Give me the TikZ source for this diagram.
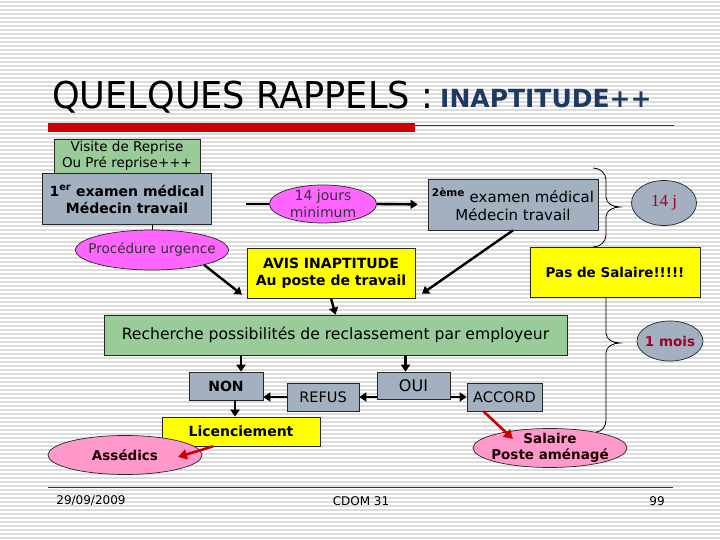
\documentclass[tikz,border=0pt]{standalone}
\usepackage{fontspec}
\setmainfont{DejaVu Sans}
\newfontfamily\titlefont[FakeStretch=0.95]{DejaVu Sans}
\newfontfamily\seriffont{Liberation Serif}
\usetikzlibrary{
    arrows.meta,
    positioning,
    shapes.geometric,
    calc
}
\definecolor{stripe}{RGB}{220,220,220}
\definecolor{titleblue}{RGB}{31,58,96}
\definecolor{barred}{RGB}{204,0,0}
\definecolor{linered}{RGB}{140,20,30}
\definecolor{boxgreen}{RGB}{153,204,153}
\definecolor{boxgrey}{RGB}{163,176,192}
\definecolor{boxyellow}{RGB}{255,255,0}
\definecolor{ovalmagenta}{RGB}{255,102,255}
\definecolor{ovalpink}{RGB}{255,153,204}
\definecolor{textred}{RGB}{160,0,40}
\definecolor{arrowred}{RGB}{204,0,0}
\newcommand{\fsz}[2]{\fontsize{#1}{#2}\selectfont}
\tikzset{
    stepbox/.style={
        rectangle,
        draw=black!85,
        line width=0.7pt,
        inner sep=0pt,
        align=center
    },
    greenbox/.style={stepbox, fill=boxgreen},
    greybox/.style={stepbox, fill=boxgrey},
    yellowbox/.style={stepbox, fill=boxyellow, font=\bfseries\fsz{14}{17}},
    oval/.style={
        ellipse,
        draw=black!85,
        line width=0.7pt,
        inner sep=0pt
    },
    flow/.style={
        -{Triangle[length=7pt,width=9pt]},
        line width=2.4pt,
        draw=black
    },
    redflow/.style={
        -{Triangle[length=9pt,width=10pt]},
        line width=2.6pt,
        draw=arrowred
    },
    bracket/.style={draw=black, line width=0.8pt}
}

\begin{document}
\begin{tikzpicture}[
    x=1pt, y=-1pt,
    ovaltext/.style={align=center, inner sep=0pt},
    footer/.style={inner sep=0pt, font=\fsz{12}{14}}
]
    \useasboundingbox (0,0) rectangle (720,540);
    \fill[white] (0,0) rectangle (720,540);
    \foreach \y in {2,6,...,538}
        \draw[stripe, line width=1.2pt] (0,\y) -- (720,\y);

    % Title
    \node[anchor=base west, inner sep=0pt, font=\titlefont\fsz{37}{40}] (title) at (52,109) {QUELQUES RAPPELS :};
    \node[anchor=base west, inner sep=0pt, font=\bfseries\fsz{25}{28}, text=titleblue] (subject) at (440,108) {INAPTITUDE++};
    \fill[barred] (48,123) rectangle (415,132);
    \draw[linered, line width=1pt] (415,126) -- (674,126);

    % First visits
    \node[greenbox, minimum width=146pt, minimum height=34pt, font=\fsz{13.5}{16}] (visite) at (127,156) {Visite de Reprise\\Ou Pré reprise+++};
    \node[greybox, below=0pt of visite, minimum width=169pt, minimum height=51pt, font=\bfseries\fsz{14}{17}] (exam1) {1\textsuperscript{er} examen médical\\Médecin travail};
    \node[oval, fill=ovalmagenta, minimum width=107pt, minimum height=38pt] (jours) at (323,204) {};
    \node[ovaltext, text=black!80, font=\fsz{14}{17}] (jours-text) at (jours) {14 jours\\minimum};
    \node[greybox, minimum width=170pt, minimum height=51pt, font=\fsz{15}{18}] (exam2) at (513,204.5) {\textsuperscript{\bfseries 2ème} examen médical\\Médecin travail};
    \node[oval, fill=boxgrey, minimum width=65pt, minimum height=45pt] (quatorze) at (664,203) {};
    \node[ovaltext, text=textred, font=\seriffont\fsz{17}{20}] (quatorze-text) at (quatorze) {14 j};
    \node[oval, fill=ovalmagenta, minimum width=153pt, minimum height=40pt] (urgence) at (152,250) {};
    \node[ovaltext, text=black!80, font=\fsz{13.5}{16}] (urgence-text) at (urgence) {Procédure urgence};

    % Avis and reclassement
    \node[yellowbox, minimum width=168pt, minimum height=50pt] (avis) at (331,273) {AVIS INAPTITUDE\\Au poste de travail};
    \node[yellowbox, minimum width=170pt, minimum height=50pt, font=\bfseries\fsz{13.5}{16}] (pas) at (615,272) {Pas de Salaire!!!!!};
    \node[greenbox, minimum width=463pt, minimum height=40pt, font=\fsz{15.6}{18}] (recherche) at (335.5,335) {Recherche possibilités de reclassement par employeur};
    \node[oval, fill=boxgrey, minimum width=66pt, minimum height=40pt] (mois) at (670,341) {};
    \node[ovaltext, text=textred, font=\bfseries\fsz{13.5}{16}] (mois-text) at (mois) {1 mois};

    % Answers
    \node[greybox, minimum width=74pt, minimum height=28pt, font=\bfseries\fsz{14}{17}] (non) at (226,386) {NON};
    \node[greybox, minimum width=73pt, minimum height=27pt, font=\fsz{16}{18}] (oui) at (413.5,385.5) {OUI};
    \node[greybox, minimum width=72pt, minimum height=28pt, font=\fsz{14.5}{17}] (refus) at (323,397) {REFUS};
    \node[greybox, minimum width=75pt, minimum height=28pt, font=\fsz{14.5}{17}] (accord) at (504.5,397) {ACCORD};
    \node[yellowbox, minimum width=158pt, minimum height=29pt] (licenc) at (241,431.5) {Licenciement};
    \node[oval, fill=ovalpink, minimum width=154pt, minimum height=39pt] (assedics) at (125,455) {};
    \node[ovaltext, text=black!90!red, font=\bfseries\fsz{13.5}{16}] (assedics-text) at (assedics) {Assédics};
    \node[oval, fill=ovalpink, minimum width=154pt, minimum height=39pt] (poste) at (550,448) {};
    \node[ovaltext, text=black!90!red, font=\bfseries\fsz{13.5}{16}] (poste-text) at (poste) {Salaire\\Poste aménagé};

    % Connectors
    \coordinate[left=23pt of jours.west] (jours-in);
    \draw[line width=2.4pt] (jours-in) -- (jours.west);
    \draw[flow, shorten >=10pt] (jours.east) -- (exam2.west);
    \draw[line width=1pt] (urgence.north) -- (urgence.north |- exam1.south);
    \draw[flow, shorten >=6pt] (urgence.-16) -- (avis.south west);
    \draw[flow, shorten >=8pt] (exam2.south) -- (avis.south east);
    \draw[flow] (avis.south) -- (recherche.north);
    \coordinate[xshift=15pt] (non-in) at (non.north);
    \coordinate[xshift=-8pt] (oui-in) at (oui.north);
    \draw[flow] (non-in |- recherche.south) -- (non-in);
    \draw[flow] (oui-in |- recherche.south) -- (oui-in);
    \draw[flow] (oui.west |- refus.east) -- (refus.east);
    \draw[flow] (refus.west) -- (refus.west -| non.east);
    \draw[flow] (oui.east |- accord.west) -- (accord.west);
    \coordinate[xshift=9pt] (non-out) at (non.south);
    \draw[flow] (non-out) -- (non-out |- licenc.north);
    \coordinate[xshift=-21pt] (accord-out) at (accord.south);
    \coordinate (poste-in) at ($(poste)+(-37,-9)$);
    \draw[redflow] (accord-out) -- (poste-in);
    \coordinate[xshift=-28pt] (licenc-out) at (licenc.south);
    \coordinate (assedics-in) at ($(assedics)+(53,2)$);
    \draw[redflow] (licenc-out) -- (assedics-in);

    % Braces
    \coordinate (brace1-top) at (593,168);
    \coordinate (brace1-bot) at (593,247);
    \draw[bracket] (brace1-top) to[out=0,in=90] (606,180) -- (606,197)
        to[out=-90,in=180] (620,207) to[out=180,in=90] (606,217) -- (606,235)
        to[out=-90,in=0] (brace1-bot);
    \coordinate (brace2-top) at (606,297);
    \coordinate (brace2-bot) at (596,432);
    \draw[bracket] (brace2-top) -- (606,333) to[out=-90,in=180] (620,343)
        to[out=180,in=90] (606,353) -- (606,420) to[out=-90,in=0] (brace2-bot);

    % Footer
    \draw[linered, line width=0.8pt] (48,487) -- (673,487);
    \node[footer] (date) at (91,501) {29/09/2009};
    \node[footer] (cdom) at (361,501) {CDOM 31};
    \node[footer] (page) at (657,501) {99};
\end{tikzpicture}
\end{document}
